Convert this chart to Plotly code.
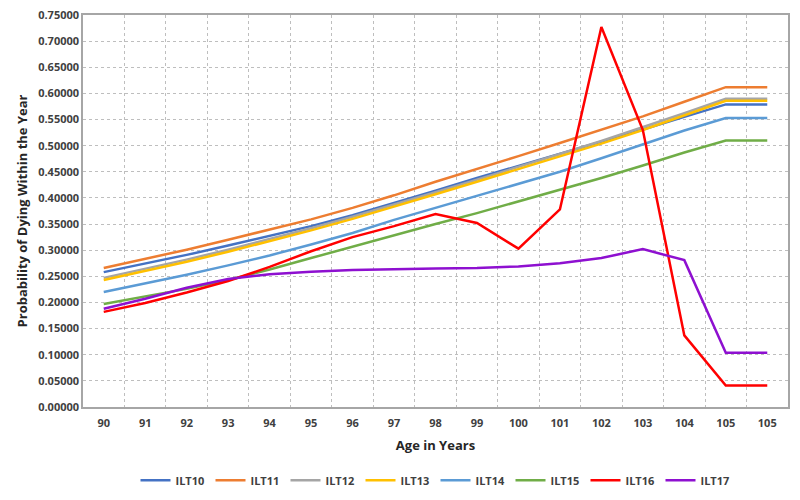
import plotly.graph_objs as go

# ages on the x axis (the last category repeats in the source chart)
ages = ['90', '91', '92', '93', '94', '95', '96', '97', '98', '99',
        '100', '101', '102', '103', '104', '105', '105']

## probability of dying within the year
ilt10 = [0.258, 0.274, 0.291, 0.309, 0.327, 0.346, 0.367, 0.390, 0.414,
         0.438, 0.461, 0.484, 0.508, 0.531, 0.555, 0.579, 0.579]
ilt11 = [0.266, 0.283, 0.301, 0.320, 0.339, 0.359, 0.381, 0.405, 0.431,
         0.455, 0.480, 0.505, 0.530, 0.556, 0.584, 0.612, 0.612]
ilt12 = [0.247, 0.264, 0.282, 0.301, 0.321, 0.342, 0.364, 0.387, 0.411,
         0.435, 0.459, 0.484, 0.509, 0.535, 0.562, 0.590, 0.590]
ilt13 = [0.243, 0.260, 0.278, 0.297, 0.317, 0.338, 0.360, 0.383, 0.407,
         0.431, 0.455, 0.479, 0.504, 0.530, 0.558, 0.586, 0.586]
ilt14 = [0.220, 0.236, 0.253, 0.271, 0.290, 0.311, 0.333, 0.358, 0.381,
         0.404, 0.427, 0.450, 0.476, 0.503, 0.529, 0.553, 0.553]
ilt15 = [0.197, 0.211, 0.226, 0.243, 0.263, 0.285, 0.307, 0.329, 0.350,
         0.371, 0.393, 0.415, 0.438, 0.462, 0.487, 0.510, 0.510]
ilt16 = [0.182, 0.199, 0.219, 0.241, 0.268, 0.298, 0.325, 0.346, 0.369,
         0.352, 0.303, 0.378, 0.727, 0.530, 0.137, 0.041, 0.041]
ilt17 = [0.188, 0.207, 0.228, 0.245, 0.254, 0.259, 0.262, 0.264, 0.265,
         0.266, 0.269, 0.275, 0.285, 0.302, 0.281, 0.104, 0.104]

names = ['ILT10', 'ILT11', 'ILT12', 'ILT13', 'ILT14', 'ILT15', 'ILT16', 'ILT17']
series = [ilt10, ilt11, ilt12, ilt13, ilt14, ilt15, ilt16, ilt17]
colors = ['#4472C4', '#ED7D31', '#A5A5A5', '#FFC000',
          '#5B9BD5', '#70AD47', '#FF0000', '#8E10D0']

pos = list(range(len(ages)))

fig = go.Figure()
for name, vals, col in zip(names, series, colors):
    fig.add_trace(go.Scatter(x=pos, y=vals, mode='lines', name=name,
                             line=dict(color=col, width=2.5)))

tick_font = dict(family='Open Sans', size=11, color='#404040', weight=700)
title_font = dict(family='Open Sans', size=13, color='#262626', weight=700)

# page body adds ~8px offset, margins are shifted to compensate
fig.update_layout(
    width=800, height=500,
    paper_bgcolor='white', plot_bgcolor='white',
    margin=dict(l=75, r=20, t=7, b=101, autoexpand=False),
    showlegend=True,
    legend=dict(orientation='h', x=0.5, xanchor='center', y=-0.15, yanchor='top',
                font=dict(family='Open Sans', size=11, color='#404040', weight=700),
                itemwidth=30, entrywidth=30, tracegroupgap=0),
)

fig.update_xaxes(
    range=[-0.5, len(ages) - 0.5],
    tickmode='array', tickvals=pos, ticktext=ages,
    tickfont=tick_font, ticks='', showgrid=False, zeroline=False,
    ticklabelstandoff=5,
    minor=dict(tick0=0.5, dtick=1, showgrid=True, gridcolor='#BEBEBE',
               griddash='dot', gridwidth=1, ticks=''),
    showline=True, mirror=True, linecolor='#A6A6A6', linewidth=1.5,
    title=dict(text='Age in Years', font=title_font, standoff=12),
)
fig.update_yaxes(
    range=[0, 0.75], dtick=0.05, tickformat='.5f',
    tickfont=tick_font, ticks='', showgrid=True, gridcolor='#BEBEBE',
    griddash='dot', gridwidth=1, zeroline=False, ticklabeloverflow='allow',
    showline=True, mirror=True, linecolor='#A6A6A6', linewidth=1.5,
    title=dict(text='Probability of Dying Within the Year', font=title_font, standoff=8),
)

fig.write_html("out.html")
